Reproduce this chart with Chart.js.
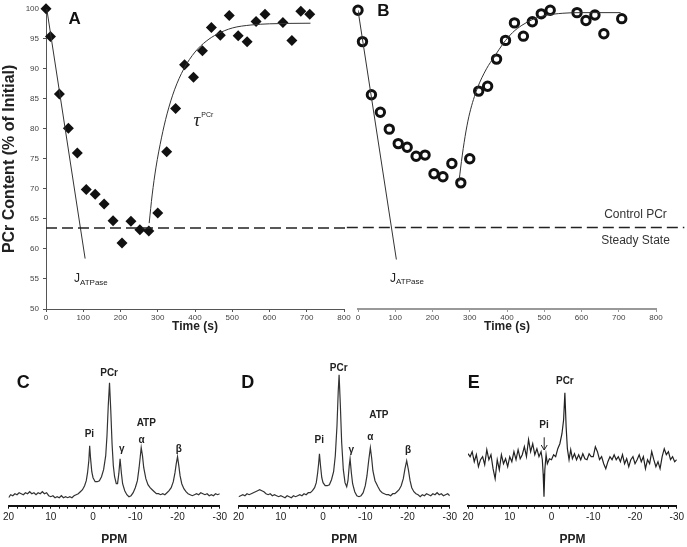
<!DOCTYPE html>
<html lang="en">
<head>
<meta charset="UTF-8">
<title>PCr kinetics and 31P spectra</title>
<style>
  body { margin: 0; background: #fff; }
  #wrap { position: relative; width: 687px; height: 547px; overflow: hidden; }
  #wrap canvas { position: absolute; }
</style>
</head>
<body>
<div id="wrap">
  <canvas id="chartA" width="352" height="340" style="left:0;top:0;"></canvas>
  <canvas id="chartB" width="347" height="340" style="left:340px;top:0;"></canvas>
  <canvas id="chartC" width="230" height="187" style="left:0;top:360px;"></canvas>
  <canvas id="chartD" width="230" height="187" style="left:230px;top:360px;"></canvas>
  <canvas id="chartE" width="230" height="187" style="left:457px;top:360px;"></canvas>
</div>
<script src="https://cdn.jsdelivr.net/npm/chart.js@4/dist/chart.umd.min.js"></script>
<script>
// panel A - PCr content, diamonds
const timeA = [0, 12, 36, 60, 84, 108, 132, 156, 180, 204, 228, 252, 276, 300, 324, 348, 372, 396, 420, 444, 468, 492, 516, 540, 564, 588, 636, 660, 684, 708];
const pcrA = [100, 95.4, 85.8, 80.1, 76.0, 69.9, 69.1, 67.5, 64.7, 61.0, 64.6, 63.2, 63.0, 66.0, 76.2, 83.4, 90.7, 88.6, 93.0, 96.9, 95.6, 98.9, 95.5, 94.5, 97.9, 99.1, 97.7, 94.7, 99.6, 99.1];
const jTimeA = [2, 105];
const jA = [100, 58.4];
const fitTimeA = [277, 285, 295, 310, 325, 345, 370, 400, 430, 460, 500, 550, 600, 710];
const fitA = [64.3, 69, 73.5, 78.5, 82.5, 86.5, 90, 92.8, 94.6, 95.8, 96.8, 97.3, 97.5, 97.6];

// panel B - PCr content, open circles
const timeB = [0, 12, 36, 60, 84, 108, 132, 156, 180, 204, 228, 252, 276, 300, 324, 348, 372, 396, 420, 444, 468, 492, 516, 588, 612, 636, 660, 708];
const pcrB = [99.5, 94.3, 85.5, 82.6, 79.8, 77.4, 76.8, 75.3, 75.5, 72.4, 71.9, 74.1, 70.9, 74.9, 86.1, 86.9, 91.4, 94.5, 97.4, 95.2, 97.6, 98.9, 99.5, 99.1, 97.8, 98.7, 95.6, 98.1];
const jTimeB = [0, 103];
const jB = [99.5, 58.2];
const fitTimeB = [271, 280, 290, 300, 320, 345, 366, 390, 415, 440, 470, 500, 550, 600, 705];
const fitB = [71.1, 75.5, 79.5, 82.5, 86.5, 89.8, 91.8, 94, 95.8, 97, 98, 98.6, 99, 99.1, 99.1];

const controlLevel = 63.5;

// spectra C, D, E (ppm, signal)
const ppmC = [20, 19.5, 19, 18.5, 18, 17.5, 17, 16.5, 16, 15.5, 15, 14.5, 14, 13.5, 13, 12.5, 12, 11.5, 11, 10.5, 10, 9.5, 9, 8.5, 8, 7.5, 7, 6.5, 6, 5.5, 5, 4.5, 4, 3.5, 3, 2.5, 2,
  1.6, 1.3, 1.0, 0.8, 0.6, 0.3, 0, -0.5, -1, -1.5, -2, -2.5, -3, -3.3, -3.6, -3.9, -4.2, -4.5, -4.8, -5.1, -5.5, -5.8, -6.1, -6.4, -6.7, -7,
  -7.5, -8, -8.5, -9, -9.5, -10, -10.5, -10.9, -11.2, -11.4, -11.7, -12, -12.5, -13, -13.5, -14, -14.5, -15, -15.5, -16, -16.5, -17, -17.5, -18, -18.5, -19,
  -19.4, -19.7, -20, -20.3, -20.6, -21, -21.5, -22, -22.5, -23, -23.5, -24, -24.5, -25, -25.5, -26, -26.5, -27, -27.5, -28, -28.5, -29, -29.5, -30];
const sigC = [8, 11, 10, 12, 11, 13, 12, 11, 13, 12, 14, 12, 13, 11, 13, 12, 14, 12, 13, 10, 9, 10, 8, 9, 8, 10, 8, 9, 8, 9, 8, 10, 11, 12, 14, 16, 20,
  25, 33, 45, 60, 48, 34, 28, 24, 24, 25, 29, 36, 50, 70, 100, 123, 95, 62, 40, 29, 22, 22, 32, 47, 33, 22,
  15, 11, 9, 10, 13, 18, 25, 38, 50, 58, 50, 38, 27, 21, 18, 16, 14, 12, 12, 11, 12, 11, 13, 15, 18, 24,
  33, 42, 49, 40, 30, 22, 17, 14, 12, 11, 10, 11, 12, 11, 13, 12, 11, 12, 10, 11, 10, 12, 11, 12];

const ppmD = [20, 19.5, 19, 18.5, 18, 17.5, 17, 16.5, 16, 15.5, 15, 14.5, 14, 13.5, 13, 12.5, 12, 11.5, 11, 10.5, 10, 9.5, 9, 8.5, 8, 7.5, 7, 6.5, 6, 5.5, 5, 4.5, 4, 3.5, 3, 2.5, 2,
  1.6, 1.3, 1.05, 0.85, 0.6, 0.3, 0, -0.5, -1, -1.5, -2, -2.5,
  -2.9, -3.3, -3.6, -3.8, -4.1, -4.4, -4.8, -5.2, -5.6, -5.9, -6.2, -6.4, -6.7, -7,
  -7.5, -8, -8.5, -9, -9.5, -10, -10.4, -10.8, -11.2, -11.5, -11.8, -12.3,
  -13, -13.5, -14, -14.5, -15, -15.5, -16, -16.5, -17, -17.5, -18, -18.5, -19,
  -19.4, -19.8, -20.2, -20.6, -21, -21.5, -22, -22.5, -23, -23.5, -24, -24.5, -25, -25.5, -26, -26.5, -27, -27.5, -28, -28.5, -29, -29.5, -30];
const sigD = [9, 10, 11, 10, 12, 11, 12, 13, 14, 15, 16, 15, 14, 12, 11, 12, 10, 11, 10, 9, 10, 9, 8, 10, 9, 8, 10, 9, 10, 11, 10, 12, 11, 13, 13, 15, 18,
  23, 32, 42, 52, 40, 28, 23, 20, 20, 21, 26, 34,
  50, 80, 115, 131, 100, 64, 36, 23, 19, 25, 40, 47, 33, 22,
  14, 10, 9, 10, 13, 20, 30, 45, 58, 48, 35, 25,
  19, 15, 13, 12, 11, 11, 10, 12, 12, 14, 16, 20, 27,
  37, 45, 36, 25, 18, 14, 12, 11, 9, 11, 10, 12, 11, 10, 12, 11, 13, 11, 12, 10, 11, 12, 10];

const ppmE = [20, 19.5, 19, 18.5, 18, 17.5, 17, 16.5, 16, 15.5, 15, 14.5, 14, 13.5, 13, 12.5, 12, 11.5, 11, 10.5, 10, 9.5, 9, 8.5, 8, 7.5, 7, 6.5, 6, 5.5, 5, 4.5, 4, 3.5, 3, 2.5,
  2.2, 2.0, 1.8, 1.6, 1.3, 1.0, 0.5, 0, -0.5, -1, -1.5, -2, -2.5, -2.9, -3.2, -3.5, -3.8, -4.2, -4.6, -5,
  -5.5, -6, -6.5, -7, -7.5, -8, -8.5, -9, -9.5, -10, -10.5, -11, -11.5, -12, -12.5, -13, -13.5, -14, -14.5, -15, -15.5, -16, -16.5, -17, -17.5,
  -18, -18.5, -19, -19.5, -20, -20.5, -21, -21.5, -22, -22.5, -23, -23.5, -24, -24.5, -25, -25.5, -26, -26.5, -27, -27.5, -28, -28.5, -29, -29.5, -30];
const sigE = [52, 49, 54, 44, 51, 39, 46, 49, 41, 56, 46, 51, 37, 27, 46, 36, 51, 42, 47, 39, 49, 44, 54, 46, 56, 47, 51, 59, 49, 66, 54, 62, 51, 57, 49, 54,
  46, 32, 9, 36, 51, 42, 47, 46, 51, 49, 57, 62, 72, 86, 113, 79, 57, 46, 56, 47,
  52, 46, 51, 46, 52, 47, 46, 52, 49, 49, 59, 54, 46, 49, 42, 37, 44, 49, 46, 51, 46, 49, 44, 51, 42,
  47, 39, 46, 49, 42, 46, 51, 44, 49, 37, 46, 42, 54, 46, 39, 44, 37, 49, 57, 51, 54, 46, 49, 44, 46];

const F = "'Liberation Sans', Arial, sans-serif";

function pts(xs, ys) {
  return xs.map((x, i) => ({x: x, y: ys[i]}));
}

// text labels placed at data coordinates
const notes = {
  id: 'notes',
  afterDatasetsDraw(chart, args, opts) {
    const ctx = chart.ctx;
    const sx = chart.scales.x, sy = chart.scales.y;
    (opts.items || []).forEach(n => {
      const px = sx.getPixelForValue(n.x);
      ctx.save();
      ctx.fillStyle = n.color || '#222';
      ctx.strokeStyle = n.color || '#222';
      if (n.arrow) {
        const y1 = sy.getPixelForValue(n.y), y2 = sy.getPixelForValue(n.y2);
        ctx.lineWidth = 1;
        ctx.beginPath();
        ctx.moveTo(px, y1); ctx.lineTo(px, y2); ctx.stroke();
        ctx.beginPath();
        ctx.moveTo(px - 3, y2 - 5); ctx.lineTo(px, y2); ctx.lineTo(px + 3, y2 - 5); ctx.stroke();
        ctx.restore();
        return;
      }
      const py = sy.getPixelForValue(n.y);
      ctx.font = n.font;
      ctx.textAlign = n.align || 'center';
      ctx.textBaseline = 'middle';
      ctx.fillText(n.text, px, py);
      if (n.sub) {
        const w = ctx.measureText(n.text).width;
        const start = n.align === 'left' ? px + w : px + w / 2;
        ctx.font = n.subFont;
        ctx.textAlign = 'left';
        ctx.fillText(n.sub, start + (n.subDx || 0), py + n.subDy);
      }
      ctx.restore();
    });
  }
};

function timeAxis(col, bw) {
  return {
    type: 'linear', min: 0, max: 800,
    ticks: {stepSize: 100, autoSkip: false, maxRotation: 0, padding: 1, color: '#444', font: {family: F, size: 8}},
    grid: {drawOnChartArea: false, tickLength: 3, color: col},
    border: {color: col, width: bw},
    title: {display: true, text: 'Time (s)', color: '#222', font: {family: F, size: 12, weight: 'bold'}, padding: {top: 0, bottom: 6}},
    afterFit: s => { s.height = 31; }
  };
}

function lineSet(data, opts) {
  return Object.assign({data: data, showLine: true, pointRadius: 0, borderColor: '#333', borderWidth: 1, fill: false}, opts);
}

const common = {
  responsive: false,
  animation: false,
  devicePixelRatio: 1,
  plugins: {legend: {display: false}, tooltip: {enabled: false}}
};

new Chart('chartA', {
  type: 'scatter',
  data: {
    datasets: [
      lineSet(pts([0, 810], [controlLevel, controlLevel]), {borderColor: '#222', borderWidth: 1.5, borderDash: [11, 5], clip: false}),
      lineSet(pts(jTimeA, jA)),
      lineSet(pts(fitTimeA, fitA), {cubicInterpolationMode: 'monotone'}),
      {data: pts(timeA, pcrA), pointStyle: 'rectRot', pointRadius: 5.5, backgroundColor: '#111', borderColor: '#111', borderWidth: 0, clip: false}
    ]
  },
  options: Object.assign({}, common, {
    layout: {padding: {left: 0, right: 8, top: 7, bottom: 0}},
    scales: {
      x: timeAxis('#555', 1),
      y: {
        min: 50, max: 100,
        ticks: {stepSize: 5, padding: 4, color: '#444', font: {family: F, size: 8}},
        grid: {drawOnChartArea: false, tickLength: 3, color: '#555'},
        border: {color: '#555', width: 1},
        title: {display: true, text: 'PCr Content (% of Initial)', color: '#222', font: {family: F, size: 16, weight: 'bold'}, padding: 0},
        afterFit: s => { s.width = 46; }
      }
    },
    plugins: Object.assign({}, common.plugins, {
      notes: {items: [
        {text: 'A', x: 77, y: 98.3, font: "bold 17px " + F, color: '#111'},
        {text: '\u03c4', x: 405, y: 81.3, font: "italic 19px 'Liberation Serif', serif", color: '#222', sub: 'PCr', subFont: '7px ' + F, subDy: -6, subDx: 1},
        {text: 'J', x: 75, y: 55.1, align: 'left', font: '12px ' + F, sub: 'ATPase', subFont: '8px ' + F, subDy: 4}
      ]}
    })
  }),
  plugins: [notes]
});

new Chart('chartB', {
  type: 'scatter',
  data: {
    datasets: [
      lineSet(pts([-30, 876], [controlLevel, controlLevel]), {borderColor: '#222', borderWidth: 1.5, borderDash: [11, 5], clip: false}),
      lineSet(pts(jTimeB, jB)),
      lineSet(pts(fitTimeB, fitB), {cubicInterpolationMode: 'monotone'}),
      {data: pts(timeB, pcrB), pointStyle: 'circle', pointRadius: 4.2, backgroundColor: 'rgba(255,255,255,0)', borderColor: '#111', borderWidth: 3, clip: false}
    ]
  },
  options: Object.assign({}, common, {
    layout: {padding: {left: 18, right: 31, top: 7, bottom: 0}},
    scales: {
      x: timeAxis('#999', 2),
      y: {display: false, min: 50, max: 100}
    },
    plugins: Object.assign({}, common.plugins, {
      notes: {items: [
        {text: 'B', x: 68, y: 99.4, font: "bold 17px " + F, color: '#111'},
        {text: 'J', x: 86, y: 55.1, align: 'left', font: '12px ' + F, sub: 'ATPase', subFont: '8px ' + F, subDy: 4},
        {text: 'Control PCr', x: 745, y: 65.6, font: '12px ' + F, color: '#333'},
        {text: 'Steady State', x: 745, y: 61.4, font: '12px ' + F, color: '#333'}
      ]}
    })
  }),
  plugins: [notes]
});

function spectrum(id, xs, ys, pad, items, col) {
  new Chart(id, {
    type: 'scatter',
    data: {datasets: [lineSet(pts(xs, ys), {borderColor: col, borderWidth: 1.2})]},
    options: Object.assign({}, common, {
      layout: {padding: pad},
      scales: {
        x: {
          type: 'linear', min: -30, max: 20, reverse: true,
          ticks: {stepSize: 2, autoSkip: false, maxRotation: 0, padding: 3, color: '#222', font: {family: F, size: 10},
            callback: v => (v % 10 === 0 ? String(v) : '')},
          grid: {drawOnChartArea: false, tickLength: 3, color: '#111'},
          border: {color: '#111', width: 2},
          title: {display: true, text: 'PPM', color: '#222', font: {family: F, size: 12, weight: 'bold'}, padding: {top: 0, bottom: 0}},
          afterFit: s => { s.height = 41.3; }
        },
        y: {display: false, min: 0, max: 140}
      },
      plugins: Object.assign({}, common.plugins, {notes: {items: items}})
    }),
    plugins: [notes]
  });
}

const lab = "bold 10px " + F;
const big = "bold 18px " + F;

spectrum('chartC', ppmC, sigC, {left: 6.7, right: 8.3, top: 5.7, bottom: 0}, [
  {text: 'C', x: 16.5, y: 122.7, font: big, color: '#111'},
  {text: 'PCr', x: -3.8, y: 132.7, font: lab},
  {text: 'Pi', x: 0.86, y: 71.7, font: lab},
  {text: '\u03b3', x: -6.8, y: 56.7, font: lab},
  {text: 'ATP', x: -12.6, y: 82.7, font: lab},
  {text: '\u03b1', x: -11.5, y: 65.7, font: lab},
  {text: '\u03b2', x: -20.3, y: 56.7, font: lab}
], '#333');

spectrum('chartD', ppmD, sigD, {left: 7.3, right: 8.3, top: 5.7, bottom: 0}, [
  {text: 'D', x: 17.8, y: 122.4, font: big, color: '#111'},
  {text: 'PCr', x: -3.7, y: 137.4, font: lab},
  {text: 'Pi', x: 0.89, y: 65, font: lab},
  {text: '\u03b3', x: -6.7, y: 55, font: lab},
  {text: 'ATP', x: -13.2, y: 90.7, font: lab},
  {text: '\u03b1', x: -11.2, y: 68.4, font: lab},
  {text: '\u03b2', x: -20.1, y: 55, font: lab}
], '#333');

spectrum('chartE', ppmE, sigE, {left: 11, right: 8.3, top: 5.7, bottom: 0}, [
  {text: 'E', x: 18.6, y: 122.4, font: big, color: '#111'},
  {text: 'PCr', x: -3.2, y: 124, font: lab},
  {text: 'Pi', x: 1.8, y: 80.7, font: lab},
  {arrow: true, x: 1.75, y: 68.4, y2: 55.7}
], '#222');
</script>
</body>
</html>
